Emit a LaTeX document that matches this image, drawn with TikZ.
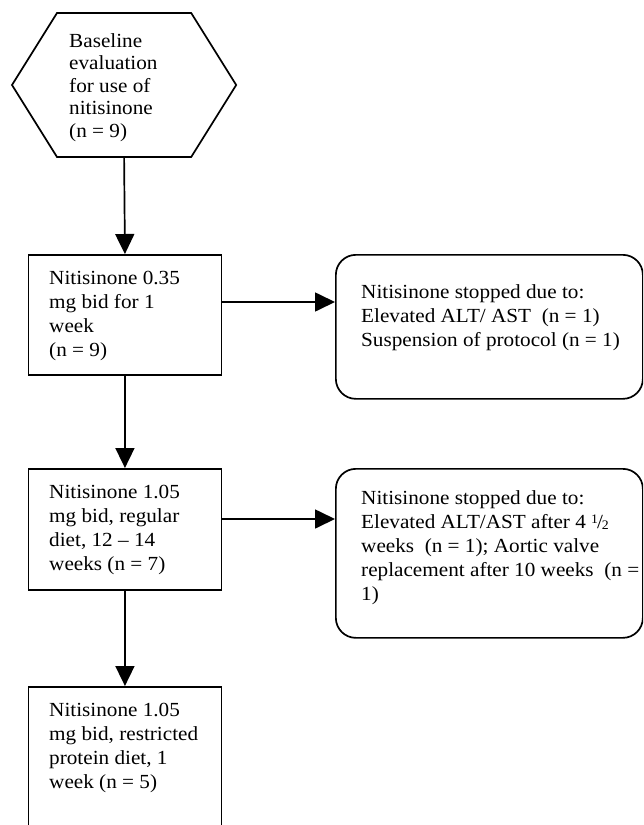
\documentclass[tikz,border=0pt]{standalone}
\usepackage{fontspec}
\setmainfont{Liberation Serif}[FakeStretch=1.06]
\usetikzlibrary{arrows.meta,calc}
\newcommand{\txtlines}[1]{\begin{tabular}[t]{@{}l@{}}#1\end{tabular}}
\newcommand{\halfsym}{\raisebox{0.45ex}{\fontsize{13}{13}\selectfont 1}\kern-0.05em/\kern-0.05em\raisebox{-0.2ex}{\fontsize{13}{13}\selectfont 2}}
\tikzset{
  stroke/.style={draw=black, line width=1.7pt},
  boxnode/.style={stroke, rectangle, inner sep=0pt, anchor=north west},
  roundbox/.style={stroke, rectangle, rounded corners=20pt, inner sep=0pt, anchor=north west},
  txt/.style={inner sep=0pt, anchor=base west, font=\fontsize{20}{24}\selectfont},
  hextxt/.style={inner sep=0pt, anchor=base west, font=\fontsize{20}{22.5}\selectfont},
  arr/.style={stroke, -{Triangle[length=20pt,width=19pt]}}
}
\begin{document}
\begin{tikzpicture}[x=1pt,y=-1pt]
\useasboundingbox (0,0) rectangle (643,825);
\clip (0,0) rectangle (643,825);
\fill[white] (0,0) rectangle (643,825);

% hexagon
\coordinate (hexL) at (12,85);
\coordinate (hexTL) at (57,13);
\coordinate (hexTR) at (191.2,13);
\coordinate (hexR) at (236.2,85);
\coordinate (hexBR) at (191.2,157);
\coordinate (hexBL) at (57,157);
\coordinate (hexbot) at (124.1,157);
\draw[stroke, line join=miter] (hexL) -- (hexTL) -- (hexTR) -- (hexR) -- (hexBR) -- (hexBL) -- cycle;
\node[hextxt] (thex) at (69,47) {\txtlines{Baseline\\evaluation\\for use of\\nitisinone\\(n = 9)}};

% boxes
\node[boxnode, minimum width=193.2pt, minimum height=120pt] (b1) at (27.5,254) {};
\node[boxnode, minimum width=193.2pt, minimum height=121pt] (b2) at (27.5,468) {};
\node[boxnode, minimum width=193.2pt, minimum height=170pt] (b3) at (27.5,686) {};

\node[roundbox, minimum width=307pt, minimum height=144pt] (r1) at (335,254) {};
\node[roundbox, minimum width=307pt, minimum height=169pt] (r2) at (335,468) {};

% texts
\node[txt] (t1) at ($(b1.north west)+(21.5,30)$) {\txtlines{Nitisinone 0.35\\mg bid for 1\\week\\(n = 9)}};
\node[txt] (t2) at ($(b2.north west)+(21.5,30)$) {\txtlines{Nitisinone 1.05\\mg bid, regular\\diet, 12 -- 14\\weeks (n = 7)}};
\node[txt] (t3) at ($(b3.north west)+(21.5,30)$) {\txtlines{Nitisinone 1.05\\mg bid, restricted\\protein diet, 1\\week (n = 5)}};
\node[txt] (tr1) at ($(r1.north west)+(26,44)$) {\txtlines{Nitisinone stopped due to:\\Elevated ALT/ AST\ \ (n = 1)\\Suspension of protocol (n = 1)}};
\node[txt] (tr2) at ($(r2.north west)+(26,36)$) {\txtlines{Nitisinone stopped due to:\\Elevated ALT/AST after 4 \halfsym\\weeks\ \ (n = 1); Aortic valve\\replacement after 10 weeks\ \ (n =\\1)}};

% connectors
\draw[arr] (hexbot) -- (b1.north);
\draw[arr] (b1.south) -- (b2.north);
\draw[arr] (b2.south) -- (b3.north);
\draw[arr] ($(b1.north east)+(0,48)$) -- ($(r1.north west)+(0,48)$);
\draw[arr] ($(b2.north east)+(0,51)$) -- ($(r2.north west)+(0,51)$);
\end{tikzpicture}
\end{document}
